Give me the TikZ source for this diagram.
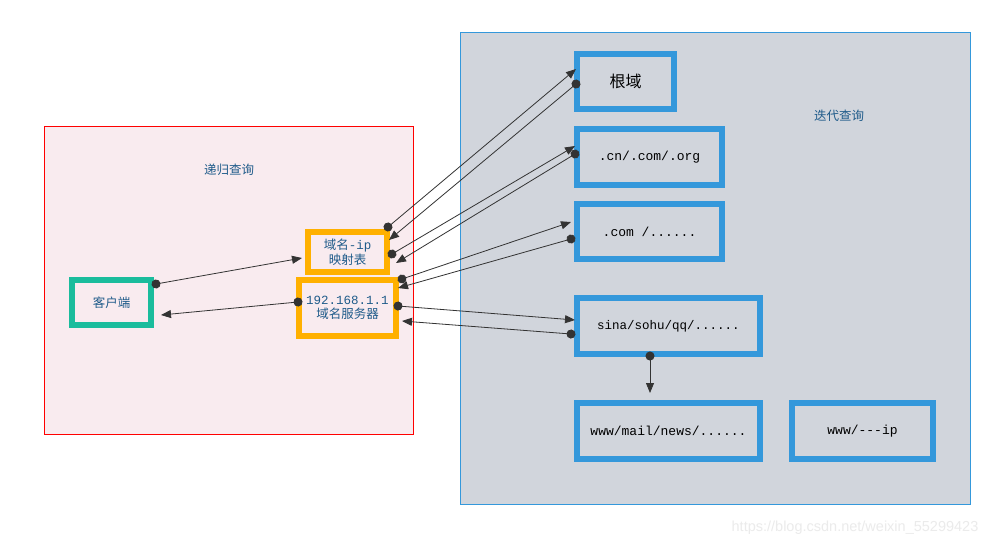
\documentclass[tikz,border=0pt]{standalone}
\usepackage{fontspec}
\setmonofont{Liberation Mono}
\setsansfont{Liberation Sans}
\newfontfamily\cjk{Noto Sans CJK SC}
\usetikzlibrary{arrows.meta,calc}
\definecolor{teal1}{HTML}{1ABC9C}
\definecolor{orange1}{HTML}{FFB000}
\definecolor{blue1}{HTML}{3498DB}
\definecolor{pinkbg}{HTML}{F9EBEF}
\definecolor{graybg}{HTML}{D1D5DC}
\definecolor{txtblue}{HTML}{1F5B8A}
\definecolor{conn}{HTML}{333333}
\tikzset{
  boxstyle/.style={draw, line width=6pt, inner sep=0pt, align=center, font=\fontsize{12.5}{15}\selectfont},
  tealbox/.style={boxstyle, draw=teal1, fill=pinkbg, text=txtblue},
  orbox/.style={boxstyle, draw=orange1, fill=pinkbg, text=txtblue},
  bluebox/.style={boxstyle, draw=blue1, fill=graybg, text=black},
  conline/.style={draw=conn, line width=0.8pt, shorten <=-4.5pt, {Circle[length=9pt]}-{Triangle[length=10pt,width=8pt]}},
  grouplabel/.style={text=txtblue, font=\cjk\fontsize{12.5}{15}\selectfont}
}
\begin{document}
\begin{tikzpicture}[x=1pt,y=-1pt]
\useasboundingbox (0,0) rectangle (1000,547);
\fill[white] (0,0) rectangle (1000,547);
% group areas
\draw[red, line width=1pt, fill=pinkbg] (44,126) rectangle (413,434);
\draw[blue1, line width=1pt, fill=graybg] (460,32) rectangle (970,504);
\node[grouplabel] (lrec) at (229,170) {递归查询};
\node[grouplabel] (liter) at (839,116) {迭代查询};
% left nodes
\node[tealbox, minimum width=79pt, minimum height=45pt] (client) at (111.5,302.5) {\cjk 客户端};
\node[orbox, minimum width=79pt, minimum height=40pt] (ip) at (347.5,252) {{\cjk 域名}{\ttfamily -ip}\\[0pt]{\cjk 映射表}};
\node[orbox, minimum width=97pt, minimum height=56pt, font=\fontsize{12.5}{14}\selectfont] (srv) at (347.5,308) {{\ttfamily 192.168.1.1}\\[0pt]{\cjk 域名服务器}};
% right nodes
\node[bluebox, minimum width=97pt, minimum height=55pt, font=\cjk\fontsize{16}{18}\selectfont] (root) at (625.5,81.5) {根域};
\node[bluebox, minimum width=145pt, minimum height=56pt, font=\ttfamily\fontsize{13}{15}\selectfont] (cn) at (649.5,157) {.cn/.com/.org};
\node[bluebox, minimum width=145pt, minimum height=55pt, font=\ttfamily\fontsize{13}{15}\selectfont] (com) at (649.5,231.5) {.com /......};
\node[bluebox, minimum width=183pt, minimum height=56pt, font=\ttfamily\fontsize{12.5}{15}\selectfont] (sina) at (668.5,326) {sina/sohu/qq/......};
\node[bluebox, minimum width=183pt, minimum height=56pt, font=\ttfamily\fontsize{13}{15}\selectfont] (www) at (668.5,431) {www/mail/news/......};
\node[bluebox, minimum width=141pt, minimum height=56pt, font=\ttfamily\fontsize{13}{15}\selectfont] (wip) at (862.5,431) {www/---ip};
% connectors
\draw[conline] ($(client.north east)+(2,7)$) -- ($(ip.west)+(-3,6)$);
\draw[conline] ($(srv.west)+(2,-6)$) -- ($(client.east)+(7,12.5)$);
\draw[conline] ($(ip.north east)+(-2,-2)$) -- ($(root.west)+(2,-12.5)$);
\draw[conline] ($(root.west)+(2,2.5)$) -- ($(ip.north east)+(-1,11)$);
\draw[conline] ($(ip.east)+(2,2)$) -- ($(cn.west)+(1,-11)$);
\draw[conline] ($(cn.west)+(1,-3)$) -- ($(ip.east)+(6,11)$);
\draw[conline] ($(srv.north east)+(3,2)$) -- ($(com.west)+(-3,-9.5)$);
\draw[conline] ($(com.west)+(-3,7.5)$) -- ($(srv.north east)+(-1,11)$);
\draw[conline] ($(srv.east)+(-1,-2)$) -- ($(sina.west)+(1,-6)$);
\draw[conline] ($(sina.west)+(-3,8)$) -- ($(srv.east)+(3,13)$);
\draw[conline] ($(sina.south)+(-18.5,-1)$) -- ($(www.north)+(-18.5,-7)$);
% watermark
\node[text=black!8, font=\sffamily\fontsize{14.5}{16}\selectfont] (wm) at (855,528) {https://blog.csdn.net/weixin\_55299423};
\end{tikzpicture}
\end{document}
